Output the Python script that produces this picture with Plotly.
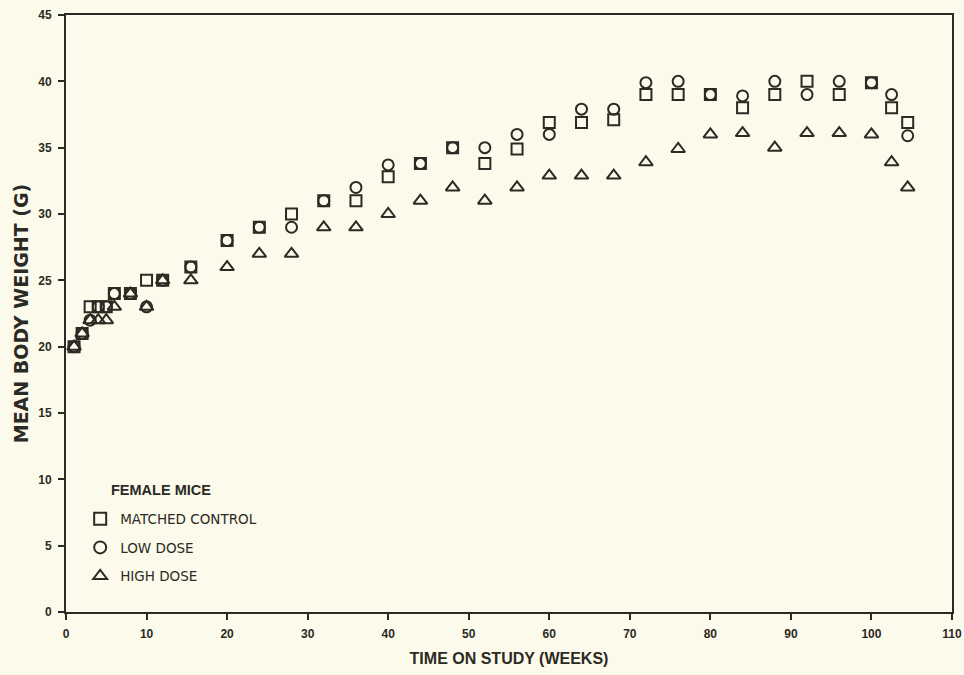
import plotly.graph_objects as go

# Time on study (weeks) at each weighing
weeks = [1, 2, 3, 4, 5, 6, 8, 10, 12, 15.5, 20, 24, 28, 32, 36, 40, 44, 48, 52, 56,
         60, 64, 68, 72, 76, 80, 84, 88, 92, 96, 100, 102.5, 104.5]

# Mean body weight (g) per group
matched_control = [20, 21, 23, 23, 23, 24, 24, 25, 25, 26, 28, 29, 30, 31, 31, 32.8, 33.8, 35, 33.8, 34.9,
                   36.9, 36.9, 37.1, 39, 39, 39, 38, 39, 40, 39, 39.9, 38, 36.9]
low_dose = [20, 21, 22, 23, 23, 24, 24, 23, 25, 26, 28, 29, 29, 31, 32, 33.7, 33.8, 35, 35, 36,
            36, 37.9, 37.9, 39.9, 40, 39, 38.9, 40, 39, 40, 39.9, 39, 35.9]
high_dose = [20, 21, 22, 22, 22, 23, 24, 23, 25, 25, 26, 27, 27, 29, 29, 30, 31, 32, 31, 32,
             32.9, 32.9, 32.9, 33.9, 34.9, 36, 36.1, 35, 36.1, 36.1, 36, 33.9, 32]

series_names = ["MATCHED CONTROL", "LOW DOSE", "HIGH DOSE"]
x_ticks = list(range(0, 111, 10))
y_ticks = list(range(0, 46, 5))

INK = "#2b2a24"
PAPER = "#fcfaea"
FONT = "Liberation Sans, Arial, sans-serif"
WIDE = "DejaVu Sans, Verdana, sans-serif"

fig = go.Figure()
styles = [("square-open", 11), ("circle-open", 11), ("triangle-up-open", 12)]
for i, (name, ys, (sym, sz)) in enumerate(zip(series_names, [matched_control, low_dose, high_dose], styles)):
    fig.add_trace(go.Scatter(
        x=weeks, y=ys, mode="markers", name=name, legendgroup=f"g{i}",
        marker=dict(symbol=sym, size=sz, color=INK, line=dict(width=2, color=INK)),
    ))

fig.update_layout(
    width=964, height=675,
    margin=dict(l=66, r=12, t=15, b=63),
    paper_bgcolor=PAPER, plot_bgcolor=PAPER,
    font=dict(family=FONT, color=INK, size=12),
    showlegend=True,
    legend=dict(
        x=0.016, y=0.1816, xanchor="left", yanchor="top",
        bgcolor="rgba(0,0,0,0)", borderwidth=0,
        font=dict(size=13.5, family=WIDE, color=INK),
        tracegroupgap=8, itemsizing="constant",
    ),
    annotations=[dict(
        text="<b>FEMALE MICE</b>", xref="paper", yref="paper",
        x=0.048, y=0.188, xanchor="left", yanchor="bottom", showarrow=False,
        font=dict(size=14.5, family=FONT, color=INK),
    )],
)

fig.update_xaxes(
    range=[0, 110], tickvals=x_ticks, ticktext=[f"<b>{v}</b>" for v in x_ticks],
    showgrid=False, zeroline=False, automargin=False,
    showline=True, linewidth=2, linecolor=INK, mirror=True,
    ticks="outside", ticklen=6, tickwidth=1.5, tickcolor=INK,
    tickfont=dict(size=12, family=FONT, color=INK),
    ticklabelstandoff=4,
    title=dict(text="<b>TIME ON STUDY (WEEKS)</b>", font=dict(size=16, family=FONT, color=INK), standoff=12),
)
fig.update_yaxes(
    range=[0, 45], tickvals=y_ticks, ticktext=[f"<b>{v}</b>" for v in y_ticks],
    showgrid=False, zeroline=False, automargin=False,
    showline=True, linewidth=2, linecolor=INK, mirror=True,
    ticks="outside", ticklen=6, tickwidth=1.5, tickcolor=INK,
    tickfont=dict(size=12, family=FONT, color=INK),
    ticklabelstandoff=4,
    title=dict(text="<b>MEAN BODY WEIGHT (G)</b>", font=dict(size=19, family=WIDE, color=INK), standoff=5),
)

fig.write_html("out.html")
